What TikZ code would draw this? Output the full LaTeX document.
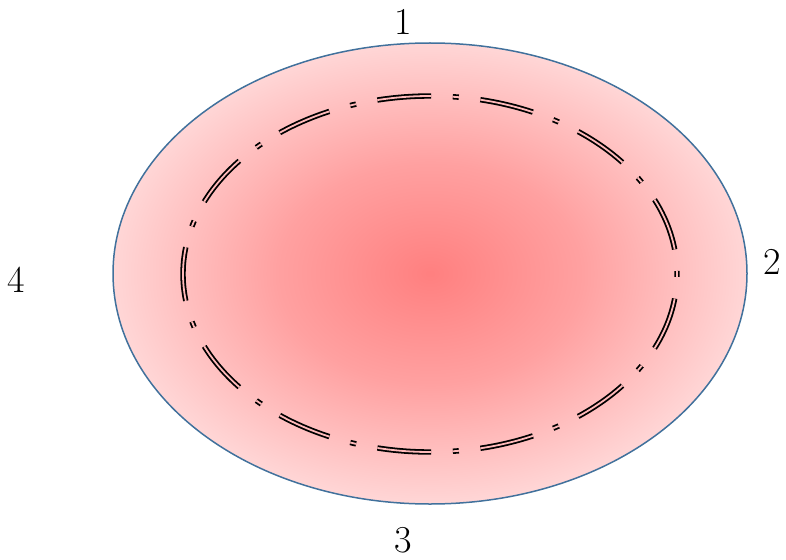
\documentclass[tikz,border=0pt]{standalone}
\usepackage{xcolor}
\usetikzlibrary{shapes.geometric}
\definecolor{rimblue}{RGB}{65,113,156}
\pgfdeclareradialshading{blush}{\pgfpoint{0bp}{0bp}}{%
  color(0bp)=(red!50); color(12bp)=(red!37); color(25bp)=(red!16); color(50bp)=(red!16)}

\begin{document}
\begin{tikzpicture}[x=1pt,y=-1pt,
  rim/.style={ellipse,draw=rimblue,line width=1.5pt,shading=blush,inner sep=0pt,
    minimum width=634pt,minimum height=461pt},
  seam/.style={ellipse,draw=black,line width=1.8pt,double=red!27,double distance=1.8pt,
    dash pattern=on 54pt off 21.7pt on 6pt off 21.7pt,dash phase=78.7pt,
    inner sep=0pt,minimum width=494pt,minimum height=356pt},
  num/.style={font=\fontsize{38}{40}\selectfont,inner sep=0pt}
]
\useasboundingbox (0,0) rectangle (786,559);
\node[rim]  (body) at (430,273.5) {};
\node[seam] (ring) at (430,274) {};
\node[num] (top)   at (403,22)  {1};
\node[num] (right) at (772,262) {2};
\node[num] (low)   at (403,540) {3};
\node[num] (left)  at (16,280)  {4};
\end{tikzpicture}
\end{document}
